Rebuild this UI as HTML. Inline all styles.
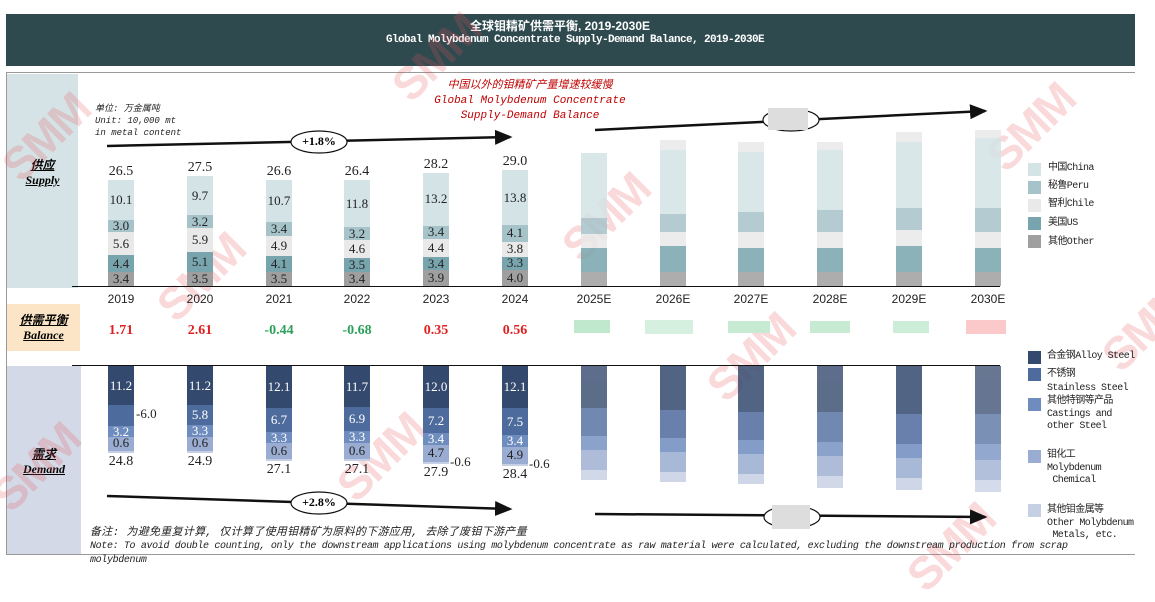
<!DOCTYPE html>
<html><head><meta charset="utf-8">
<style>
*{margin:0;padding:0;box-sizing:border-box}
body{width:1155px;height:570px;background:#fff;position:relative;overflow:hidden;font-family:"Liberation Serif","Noto Serif CJK SC",serif}
.a{position:absolute}
.sb{position:absolute;width:26px;bottom:284px;display:flex;flex-direction:column-reverse}
.db{position:absolute;width:26px;top:366px;display:flex;flex-direction:column}
.s{display:flex;align-items:center;justify-content:center;font-size:13px;color:#222;white-space:nowrap;overflow:visible}
.tl{height:20px;align-items:flex-end;font-size:14px}
.tb{height:22px;align-items:flex-start;font-size:14px;padding-top:1px}
.c1{background:#d3e3e6}.c2{background:#a6c3ca}.c3{background:#e9e9e9}.c4{background:#78a5ad}.c5{background:#9f9f9f}
.d1{background:#34496e;color:#fff}.d2{background:#4e6b9d;color:#fff}.d3{background:#6f8cbf;color:#fff}.d4{background:#9aacd1}.d5{background:#c6d0e4}
.yr{position:absolute;top:292px;width:60px;text-align:center;font-size:12px;color:#222;font-family:"Liberation Sans",sans-serif}
.bal{position:absolute;top:323px;width:70px;text-align:center;font-size:14px;font-weight:bold}
.r{color:#e02020}.g{color:#2ca05a}
.lg{position:absolute;width:13px;height:13px}
.lt{position:absolute;font-size:10px;color:#222;font-family:"Liberation Mono","Noto Sans CJK SC",monospace;line-height:14px;letter-spacing:-0.6px}
.wm{position:absolute;font-family:"Liberation Sans",sans-serif;font-weight:bold;font-size:46px;color:rgba(232,80,90,0.22);transform:rotate(-45deg);letter-spacing:-2px}
.out{position:absolute;font-size:13px;color:#222}
</style></head><body>

<div class="a" style="left:6px;top:14px;width:1129px;height:52px;background:#2e4a4f"></div>
<div class="a" style="left:360px;top:17px;width:400px;text-align:center;color:#fff;font-weight:bold;font-size:12px;font-family:'Liberation Sans','Noto Sans CJK SC',sans-serif">全球钼精矿供需平衡, 2019-2030E</div>
<div class="a" style="left:340px;top:34px;width:470px;text-align:center;color:#fff;font-weight:bold;font-size:11px;font-family:'Liberation Mono',monospace;letter-spacing:-0.6px">Global Molybdenum Concentrate Supply-Demand Balance, 2019-2030E</div>
<div class="a" style="left:6px;top:72px;width:1129px;height:1px;background:#999"></div>
<div class="a" style="left:6px;top:73px;width:1129px;height:482px;border-left:1px solid #999;border-bottom:1px solid #999"></div>

<div class="a" style="left:7px;top:74px;width:71px;height:214px;background:#d5e3e6"></div>
<div class="a" style="left:7px;top:158px;width:71px;text-align:center;font-style:italic;font-weight:bold;text-decoration:underline;font-size:12px;line-height:15px;font-family:'Liberation Serif','Noto Sans CJK SC',serif">供应<br>Supply</div>
<div class="a" style="left:7px;top:304px;width:73px;height:47px;background:#fbe5c6"></div>
<div class="a" style="left:7px;top:313px;width:73px;text-align:center;font-style:italic;font-weight:bold;text-decoration:underline;font-size:12px;line-height:15px;font-family:'Liberation Serif','Noto Sans CJK SC',serif">供需平衡<br>Balance</div>
<div class="a" style="left:7px;top:366px;width:74px;height:188px;background:#d3d9e6"></div>
<div class="a" style="left:7px;top:447px;width:74px;text-align:center;font-style:italic;font-weight:bold;text-decoration:underline;font-size:12px;line-height:15px;font-family:'Liberation Serif','Noto Sans CJK SC',serif">需求<br>Demand</div>

<div class="a" style="left:95px;top:103px;font-style:italic;font-size:9px;line-height:12px;color:#222;font-family:'Liberation Mono','Noto Sans CJK SC',monospace">单位: 万金属吨<br>Unit: 10,000 mt<br>in metal content</div>
<div class="a" style="left:400px;top:79px;width:260px;text-align:center;font-style:italic;font-size:11px;line-height:15px;color:#c00000;font-family:'Liberation Mono','Noto Sans CJK SC',monospace">中国以外的钼精矿产量增速较缓慢<br>Global Molybdenum Concentrate<br>Supply-Demand Balance</div>

<div class="wm" style="left:-5px;top:110px">SMM</div>
<div class="wm" style="left:385px;top:30px">SMM</div>
<div class="wm" style="left:150px;top:250px">SMM</div>
<div class="wm" style="left:555px;top:190px">SMM</div>
<div class="wm" style="left:980px;top:100px">SMM</div>
<div class="wm" style="left:330px;top:430px">SMM</div>
<div class="wm" style="left:700px;top:330px">SMM</div>
<div class="wm" style="left:1095px;top:300px">SMM</div>
<div class="wm" style="left:-15px;top:440px">SMM</div>
<div class="wm" style="left:900px;top:520px">SMM</div>

<svg class="a" style="left:0;top:0" width="1155" height="570">
<defs><marker id="ar" markerWidth="8" markerHeight="8" refX="6" refY="3" orient="auto"><path d="M0,0 L7,3 L0,6z" fill="#111"/></marker></defs>
<line x1="107" y1="146" x2="510" y2="137" stroke="#111" stroke-width="2.5" marker-end="url(#ar)"/>
<line x1="595" y1="130" x2="985" y2="111" stroke="#111" stroke-width="2.5" marker-end="url(#ar)"/>
<line x1="107" y1="496" x2="510" y2="509" stroke="#111" stroke-width="2.5" marker-end="url(#ar)"/>
<line x1="595" y1="514" x2="985" y2="517" stroke="#111" stroke-width="2.5" marker-end="url(#ar)"/>
<ellipse cx="319" cy="142" rx="28" ry="11" fill="#fff" stroke="#111" stroke-width="1.2"/>
<ellipse cx="791" cy="120" rx="28" ry="11" fill="#fff" stroke="#111" stroke-width="1.2"/>
<rect x="768" y="108" width="40" height="22" fill="#ddd"/>
<ellipse cx="319" cy="503" rx="28" ry="11" fill="#fff" stroke="#111" stroke-width="1.2"/>
<ellipse cx="792" cy="517" rx="28" ry="11" fill="#fff" stroke="#111" stroke-width="1.2"/>
<rect x="772" y="505" width="38" height="24" fill="#ddd"/>
<line x1="72" y1="286.5" x2="1000" y2="286.5" stroke="#111" stroke-width="1"/>
<line x1="72" y1="365.5" x2="1000" y2="365.5" stroke="#111" stroke-width="1"/>
</svg>
<div class="a" style="left:291px;top:134px;width:56px;text-align:center;font-size:12px;font-weight:bold">+1.8%</div>
<div class="a" style="left:291px;top:495px;width:56px;text-align:center;font-size:12px;font-weight:bold">+2.8%</div>

<div class="sb" style="left:108px"><div class="s c5" style="height:13.6px">3.4</div><div class="s c4" style="height:17.6px">4.4</div><div class="s c3" style="height:22.4px">5.6</div><div class="s c2" style="height:12px">3.0</div><div class="s c1" style="height:40.4px">10.1</div><div class="s tl">26.5</div></div>
<div class="sb" style="left:187px"><div class="s c5" style="height:14px">3.5</div><div class="s c4" style="height:20.4px">5.1</div><div class="s c3" style="height:23.6px">5.9</div><div class="s c2" style="height:12.8px">3.2</div><div class="s c1" style="height:39.2px">9.7</div><div class="s tl">27.5</div></div>
<div class="sb" style="left:266px"><div class="s c5" style="height:14px">3.5</div><div class="s c4" style="height:16.4px">4.1</div><div class="s c3" style="height:19.6px">4.9</div><div class="s c2" style="height:13.6px">3.4</div><div class="s c1" style="height:42.8px">10.7</div><div class="s tl">26.6</div></div>
<div class="sb" style="left:344px"><div class="s c5" style="height:13.6px">3.4</div><div class="s c4" style="height:14px">3.5</div><div class="s c3" style="height:18.4px">4.6</div><div class="s c2" style="height:12.8px">3.2</div><div class="s c1" style="height:47.2px">11.8</div><div class="s tl">26.4</div></div>
<div class="sb" style="left:423px"><div class="s c5" style="height:15.6px">3.9</div><div class="s c4" style="height:13.6px">3.4</div><div class="s c3" style="height:17.6px">4.4</div><div class="s c2" style="height:13.6px">3.4</div><div class="s c1" style="height:52.8px">13.2</div><div class="s tl">28.2</div></div>
<div class="sb" style="left:502px"><div class="s c5" style="height:16px">4.0</div><div class="s c4" style="height:13.2px">3.3</div><div class="s c3" style="height:15.2px">3.8</div><div class="s c2" style="height:16.4px">4.1</div><div class="s c1" style="height:55.2px">13.8</div><div class="s tl">29.0</div></div>
<div class="sb" style="left:581px;opacity:.85"><div class="s c5" style="height:14px"></div><div class="s c4" style="height:24px"></div><div class="s c3" style="height:14px"></div><div class="s c2" style="height:16px"></div><div class="s c1" style="height:65px"></div></div>
<div class="sb" style="left:660px;opacity:.85"><div class="s c5" style="height:14px"></div><div class="s c4" style="height:26px"></div><div class="s c3" style="height:14px"></div><div class="s c2" style="height:18px"></div><div class="s c1" style="height:64px"></div><div class="s c3" style="height:10px"></div></div>
<div class="sb" style="left:738px;opacity:.85"><div class="s c5" style="height:14px"></div><div class="s c4" style="height:24px"></div><div class="s c3" style="height:16px"></div><div class="s c2" style="height:20px"></div><div class="s c1" style="height:60px"></div><div class="s c3" style="height:10px"></div></div>
<div class="sb" style="left:817px;opacity:.85"><div class="s c5" style="height:14px"></div><div class="s c4" style="height:24px"></div><div class="s c3" style="height:16px"></div><div class="s c2" style="height:22px"></div><div class="s c1" style="height:60px"></div><div class="s c3" style="height:8px"></div></div>
<div class="sb" style="left:896px;opacity:.85"><div class="s c5" style="height:14px"></div><div class="s c4" style="height:26px"></div><div class="s c3" style="height:16px"></div><div class="s c2" style="height:22px"></div><div class="s c1" style="height:66px"></div><div class="s c3" style="height:10px"></div></div>
<div class="sb" style="left:975px;opacity:.85"><div class="s c5" style="height:14px"></div><div class="s c4" style="height:24px"></div><div class="s c3" style="height:16px"></div><div class="s c2" style="height:24px"></div><div class="s c1" style="height:70px"></div><div class="s c3" style="height:8px"></div></div>

<div class="yr" style="left:91px">2019</div><div class="yr" style="left:170px">2020</div><div class="yr" style="left:249px">2021</div><div class="yr" style="left:327px">2022</div><div class="yr" style="left:406px">2023</div><div class="yr" style="left:485px">2024</div>
<div class="yr" style="left:564px">2025E</div><div class="yr" style="left:643px">2026E</div><div class="yr" style="left:721px">2027E</div><div class="yr" style="left:800px">2028E</div><div class="yr" style="left:879px">2029E</div><div class="yr" style="left:958px">2030E</div>

<div class="bal r" style="left:86px">1.71</div><div class="bal r" style="left:165px">2.61</div><div class="bal g" style="left:244px">-0.44</div><div class="bal g" style="left:322px">-0.68</div><div class="bal r" style="left:401px">0.35</div><div class="bal r" style="left:480px">0.56</div>
<div class="a" style="left:574px;top:320px;width:36px;height:13px;background:#bfe8cc"></div>
<div class="a" style="left:645px;top:320px;width:48px;height:14px;background:#d5f0de"></div>
<div class="a" style="left:728px;top:321px;width:42px;height:12px;background:#c6ebd2"></div>
<div class="a" style="left:810px;top:321px;width:40px;height:12px;background:#c6ebd2"></div>
<div class="a" style="left:893px;top:321px;width:36px;height:12px;background:#ccedd7"></div>
<div class="a" style="left:966px;top:320px;width:40px;height:14px;background:#fbc9c9"></div>

<div class="db" style="left:108px"><div class="s d1" style="height:39.2px">11.2</div><div class="s d2" style="height:21px"></div><div class="s d3" style="height:11.2px">3.2</div><div class="s d4" style="height:13.3px;align-items:flex-end">0.6</div><div class="s d5" style="height:2.1px"></div><div class="s tb">24.8</div></div>
<div class="out" style="left:136px;top:406px">-6.0</div>
<div class="db" style="left:187px"><div class="s d1" style="height:39.2px">11.2</div><div class="s d2" style="height:20.3px">5.8</div><div class="s d3" style="height:11.6px">3.3</div><div class="s d4" style="height:14px;align-items:flex-end">0.6</div><div class="s d5" style="height:2.1px"></div><div class="s tb">24.9</div></div>
<div class="db" style="left:266px"><div class="s d1" style="height:42.4px">12.1</div><div class="s d2" style="height:23.5px">6.7</div><div class="s d3" style="height:11.6px">3.3</div><div class="s d4" style="height:15.4px;align-items:flex-end">0.6</div><div class="s d5" style="height:2.1px"></div><div class="s tb">27.1</div></div>
<div class="db" style="left:344px"><div class="s d1" style="height:41px">11.7</div><div class="s d2" style="height:24.2px">6.9</div><div class="s d3" style="height:11.6px">3.3</div><div class="s d4" style="height:16.1px;align-items:flex-end">0.6</div><div class="s d5" style="height:2.1px"></div><div class="s tb">27.1</div></div>
<div class="db" style="left:423px"><div class="s d1" style="height:42px">12.0</div><div class="s d2" style="height:25.2px">7.2</div><div class="s d3" style="height:11.9px">3.4</div><div class="s d4" style="height:16.5px">4.7</div><div class="s d5" style="height:2.1px"></div><div class="s tb">27.9</div></div>
<div class="out" style="left:450px;top:454px">-0.6</div>
<div class="db" style="left:502px"><div class="s d1" style="height:42.4px">12.1</div><div class="s d2" style="height:26.3px">7.5</div><div class="s d3" style="height:11.9px">3.4</div><div class="s d4" style="height:17.2px">4.9</div><div class="s d5" style="height:2.1px"></div><div class="s tb">28.4</div></div>
<div class="out" style="left:529px;top:456px">-0.6</div>
<div class="db" style="left:581px;opacity:.8"><div class="s d1" style="height:42px"></div><div class="s d2" style="height:28px"></div><div class="s d3" style="height:14px"></div><div class="s d4" style="height:20px"></div><div class="s d5" style="height:10px"></div></div>
<div class="db" style="left:660px;opacity:.85"><div class="s d1" style="height:44px"></div><div class="s d2" style="height:28px"></div><div class="s d3" style="height:14px"></div><div class="s d4" style="height:20px"></div><div class="s d5" style="height:10px"></div></div>
<div class="db" style="left:738px;opacity:.85"><div class="s d1" style="height:46px"></div><div class="s d2" style="height:28px"></div><div class="s d3" style="height:14px"></div><div class="s d4" style="height:20px"></div><div class="s d5" style="height:10px"></div></div>
<div class="db" style="left:817px;opacity:.8"><div class="s d1" style="height:46px"></div><div class="s d2" style="height:30px"></div><div class="s d3" style="height:14px"></div><div class="s d4" style="height:20px"></div><div class="s d5" style="height:12px"></div></div>
<div class="db" style="left:896px;opacity:.85"><div class="s d1" style="height:48px"></div><div class="s d2" style="height:30px"></div><div class="s d3" style="height:14px"></div><div class="s d4" style="height:20px"></div><div class="s d5" style="height:12px"></div></div>
<div class="db" style="left:975px;opacity:.75"><div class="s d1" style="height:48px"></div><div class="s d2" style="height:30px"></div><div class="s d3" style="height:16px"></div><div class="s d4" style="height:20px"></div><div class="s d5" style="height:12px"></div></div>

<div class="lg c1" style="left:1028px;top:163px"></div><div class="lt" style="left:1048px;top:162px">中国China</div>
<div class="lg c2" style="left:1028px;top:181px"></div><div class="lt" style="left:1048px;top:180px">秘鲁Peru</div>
<div class="lg c3" style="left:1028px;top:199px"></div><div class="lt" style="left:1048px;top:198px">智利Chile</div>
<div class="lg c4" style="left:1028px;top:217px"></div><div class="lt" style="left:1048px;top:217px">美国US</div>
<div class="lg c5" style="left:1028px;top:235px"></div><div class="lt" style="left:1048px;top:236px">其他Other</div>
<div class="lg d1" style="left:1028px;top:351px"></div><div class="lt" style="left:1047px;top:350px">合金钢Alloy Steel</div>
<div class="lg d2" style="left:1028px;top:368px"></div><div class="lt" style="left:1047px;top:368px">不锈钢<br>Stainless Steel</div>
<div class="lg d3" style="left:1028px;top:398px"></div><div class="lt" style="left:1047px;top:396px;line-height:12.5px">其他特钢等产品<br>Castings and<br>other Steel</div>
<div class="lg d4" style="left:1028px;top:450px"></div><div class="lt" style="left:1047px;top:450px;line-height:12.5px">钼化工<br>Molybdenum<br>&nbsp;Chemical</div>
<div class="lg d5" style="left:1028px;top:504px"></div><div class="lt" style="left:1047px;top:505px;line-height:12.5px">其他钼金属等<br>Other Molybdenum<br>&nbsp;Metals, etc.</div>

<div class="a" style="left:90px;top:526px;font-style:italic;font-size:11px;line-height:14px;color:#222;font-family:'Liberation Mono','Noto Sans CJK SC',monospace;white-space:nowrap;letter-spacing:0.3px">备注: 为避免重复计算, 仅计算了使用钼精矿为原料的下游应用, 去除了废钼下游产量</div>
<div class="a" style="left:90px;top:540px;font-style:italic;font-size:10px;line-height:14px;color:#222;font-family:'Liberation Mono',monospace;white-space:nowrap;letter-spacing:-0.35px">Note: To avoid double counting, only the downstream applications using molybdenum concentrate as raw material were calculated, excluding the downstream production from scrap<br>molybdenum</div>
</body></html>
